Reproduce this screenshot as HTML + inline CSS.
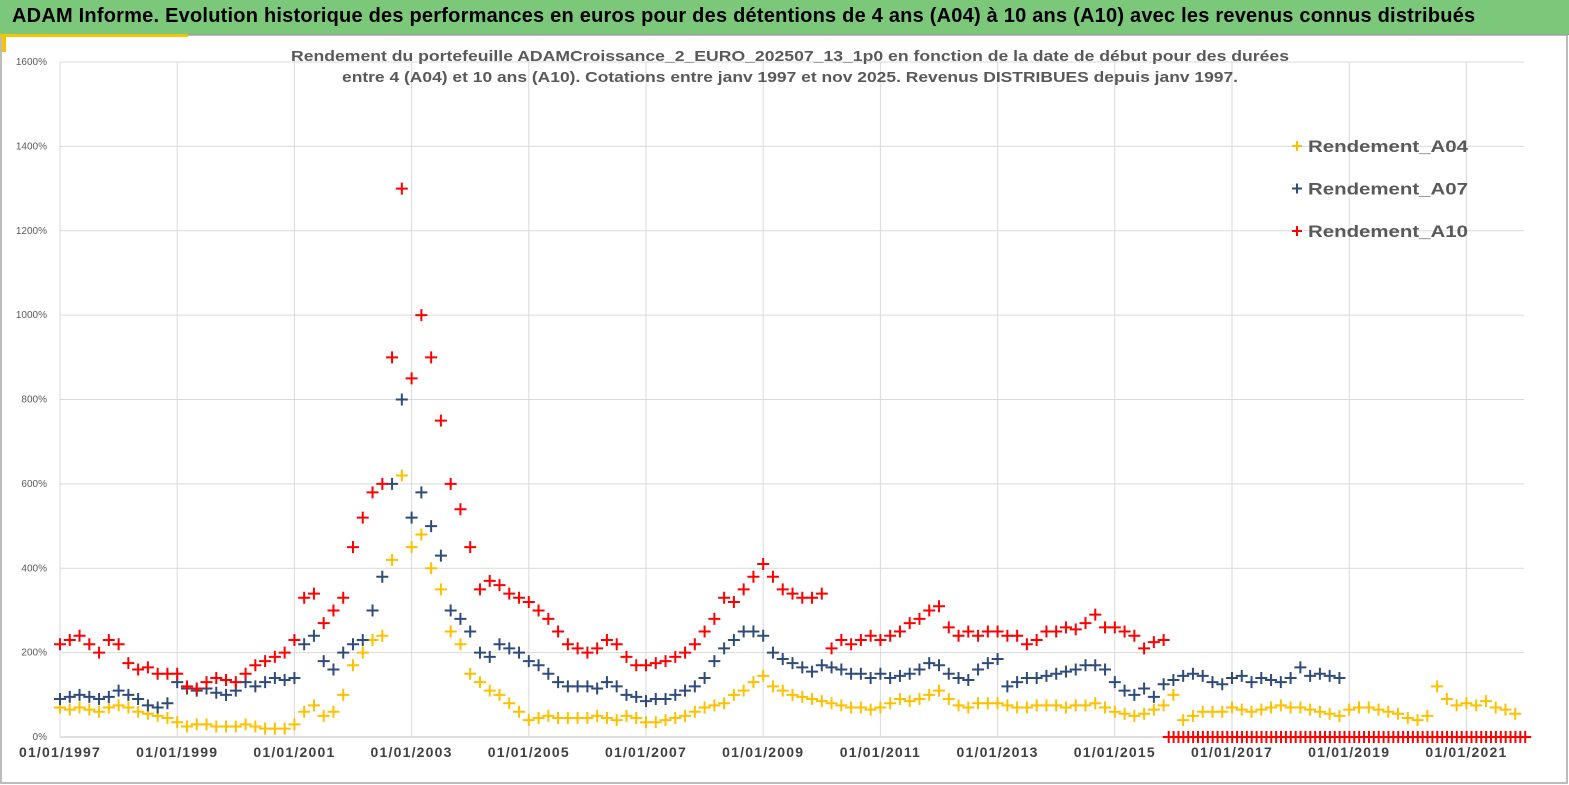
<!DOCTYPE html>
<html><head><meta charset="utf-8"><style>
body{margin:0;background:#fff;font-family:"Liberation Sans",sans-serif}
#wrap{position:relative;width:1569px;height:785px;overflow:hidden}
#bar{position:absolute;left:0;top:0;width:1569px;height:34px;background:#7cc87b;border-bottom:1px solid #6aa86a}
#bar span{position:absolute;left:12px;top:5px;font-size:20px;font-weight:bold;color:#000;white-space:nowrap;letter-spacing:0.22px}
</style></head><body>
<div id="wrap">
<div id="bar"><span>ADAM Informe. Evolution historique des performances en euros pour des détentions de 4 ans (A04) à 10 ans (A10) avec les revenus connus distribués</span></div>
<svg id="chart" width="1569" height="785" style="position:absolute;left:0;top:0"></svg>
</div>
<script>
const yTicks=[0,200,400,600,800,1000,1200,1400,1600];
const xTickYears=[1997,1999,2001,2003,2005,2007,2009,2011,2013,2015,2017,2019,2021];
const seriesNames=["Rendement_A04","Rendement_A07","Rendement_A10"];
const startYear=1997, stepYear=1/6;
const a04=[70,65,70,65,60,70, 75,70,60,55,50,45, 35,25,30,30,25,25, 25,30,25,20,20,20, 30,60,75,50,60,100, 170,200,230,240,420,620, 450,480,400,350,250,220, 150,130,110,100,80,60, 40,45,50,45,45,45, 45,50,45,40,50,45, 35,35,40,45,50,60, 70,75,80,100,110,130, 145,120,110,100,95,90, 85,80,75,70,70,65, 70,80,90,85,90,100, 110,90,75,70,80,80, 80,75,70,70,75,75, 75,70,75,75,80,70, 60,55,50,55,65,75, 100,40,50,60,60,60, 70,65,60,65,70,75, 70,70,65,60,55,50, 65,70,70,65,60,55, 45,40,50,120,90,75, 80,75,85,70,65,55];
const a07=[90,95,100,95,90,95, 110,100,90,75,70,80, 130,115,110,115,105,100, 110,130,120,130,140,135, 140,220,240,180,160,200, 220,230,300,380,600,800, 520,580,500,430,300,280, 250,200,190,220,210,200, 180,170,150,130,120,120, 120,115,130,120,100,95, 85,90,90,100,110,120, 140,180,210,230,250,250, 240,200,185,175,165,155, 170,165,160,150,150,140, 150,140,145,150,160,175, 170,150,140,135,160,175, 185,120,130,140,140,145, 150,155,160,170,170,160, 130,110,100,115,95,125, 135,145,150,145,130,125, 140,145,130,140,135,130, 140,165,145,150,145,140];
const a10=[220,230,240,220,200,230, 220,175,160,165,150,150, 150,120,115,130,140,135, 130,150,170,180,190,200, 230,330,340,270,300,330, 450,520,580,600,900,1300, 850,1000,900,750,600,540, 450,350,370,360,340,330, 320,300,280,250,220,210, 200,210,230,220,190,170, 170,175,180,190,200,220, 250,280,330,320,350,380, 410,380,350,340,330,330, 340,210,230,220,230,240, 230,240,250,270,280,300, 310,260,240,250,240,250, 250,240,240,220,230,250, 250,260,255,270,290,260, 260,250,240,210,225,230];
const a10Tail=[];for(let i=0;i<74;i++)a10Tail.push(0);
const colors=["#ffc000","#2f4b7c","#ff0000"];
const svg=document.getElementById('chart');const NS="http://www.w3.org/2000/svg";
const L=60,R=1524,T=62,B=737;
const xS=y=>60+(y-1997)*58.6;
const yS=v=>B-(v/1600)*(B-T);
function mk(tag,at,txt){const e=document.createElementNS(NS,tag);for(const k in at)e.setAttribute(k,at[k]);if(txt!=null)e.textContent=txt;svg.appendChild(e);return e;}
let e=mk('rect',{x:1,y:35,width:1566,height:748,fill:'none',stroke:'#a6a6a6','stroke-width':1.5});

e=mk('rect',{x:0,y:34,width:188,height:3,fill:'#f5c400'});

e=mk('rect',{x:2,y:36,width:4,height:16,fill:'#f5c400'});

yTicks.forEach(v=>{const y=yS(v);
 e=mk('line',{x1:L,x2:R,y1:y,y2:y,stroke:v==0?'#bfbfbf':'#d9d9d9','stroke-width':1});
 
 e=mk('text',{x:47,y:y+3,'text-anchor':'end','font-size':10,fill:'#595959'},v+'%');
 });
xTickYears.forEach(yr=>{const x=xS(yr);
 e=mk('line',{x1:x,x2:x,y1:T,y2:B,stroke:'#d9d9d9','stroke-width':1});
 
 e=mk('text',{x:x,y:757,'text-anchor':'middle','font-size':14,'font-weight':'bold',fill:'#404040','letter-spacing':'1.2'},'01/01/'+yr);
 });
e=mk('text',{x:790,y:61,'text-anchor':'middle','font-size':15,'font-weight':'bold',fill:'#595959',textLength:998,lengthAdjust:'spacingAndGlyphs'},'Rendement du portefeuille ADAMCroissance_2_EURO_202507_13_1p0  en fonction de la date de début pour des durées');

e=mk('text',{x:790,y:82,'text-anchor':'middle','font-size':15,'font-weight':'bold',fill:'#595959',textLength:896,lengthAdjust:'spacingAndGlyphs'},'entre 4 (A04) et 10 ans (A10). Cotations entre janv 1997 et nov 2025. Revenus DISTRIBUES depuis janv 1997.');

function plus(x,y,c,g,s){const d=`M${x-s},${y}H${x+s}M${x},${y-s}V${y+s}`;const p=document.createElementNS(NS,'path');p.setAttribute('d',d);p.setAttribute('stroke',c);p.setAttribute('stroke-width',2);g.appendChild(p);return p;}
function series(arr,offset,step,c,name){const g=document.createElementNS(NS,'g');svg.appendChild(g);
 
 
 arr.forEach((v,i)=>{const yr=startYear+offset+i*step;const p=plus(xS(yr),yS(v),c,g,6);
  
  });}
series(a04,0,stepYear,colors[0],'series-a04');
series(a07,0,stepYear,colors[1],'series-a07');
series(a10,0,stepYear,colors[2],'series-a10');
series(a10Tail,18.92,1/12,colors[2],'series-a10-zero-tail');
seriesNames.forEach((n,i)=>{const y=146+i*42.5;const g=document.createElementNS(NS,'g');svg.appendChild(g);
 
 
 plus(1297,y,colors[i],g,5);
 const t=document.createElementNS(NS,'text');t.setAttribute('x',1308);t.setAttribute('y',y+6);t.setAttribute('font-size',17);t.setAttribute('font-weight','bold');t.setAttribute('fill','#595959');t.setAttribute('textLength',160);t.setAttribute('lengthAdjust','spacingAndGlyphs');t.textContent=n;g.appendChild(t);});
</script>
</body></html>
